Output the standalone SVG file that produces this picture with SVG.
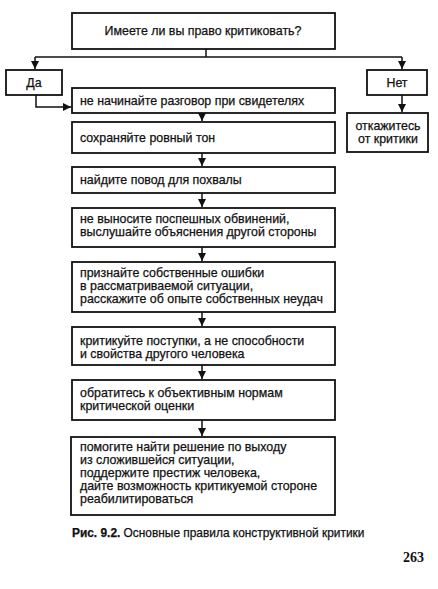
<svg xmlns="http://www.w3.org/2000/svg" width="438" height="589" viewBox="0 0 438 589">
<style>
.box{fill:#fff;stroke:#111;stroke-width:1.8}
.t{font-family:"Liberation Sans",Arial,sans-serif;font-size:12.4px;fill:#111;stroke:#111;stroke-width:0.25}
.cap{font-size:11.9px}
.c{text-anchor:middle}
.ln{fill:none;stroke:#111;stroke-width:1.5}
</style>
<defs>
<marker id="ah" markerUnits="userSpaceOnUse" markerWidth="9" markerHeight="8" refX="8" refY="4" orient="auto">
<path d="M0,0 L8,4 L0,8 Z" fill="#111"/>
</marker>
</defs>
<rect width="438" height="589" fill="#fff"/>
<g id="connectors">
<path class="ln" d="M206,49 V57"/>
<path class="ln" d="M35,57 H402"/>
<path class="ln" d="M35,57 V69" marker-end="url(#ah)"/>
<path class="ln" d="M402,57 V69" marker-end="url(#ah)"/>
<path class="ln" d="M36,95 V107 H71" marker-end="url(#ah)"/>
<path class="ln" d="M402,95 V112" marker-end="url(#ah)"/>
<path class="ln" d="M202,113 V121" marker-end="url(#ah)"/>
<path class="ln" d="M202,153 V166" marker-end="url(#ah)"/>
<path class="ln" d="M202,193 V207" marker-end="url(#ah)"/>
<path class="ln" d="M202,247 V261" marker-end="url(#ah)"/>
<path class="ln" d="M202,312 V326" marker-end="url(#ah)"/>
<path class="ln" d="M202,365 V379" marker-end="url(#ah)"/>
<path class="ln" d="M202,420 V436" marker-end="url(#ah)"/>
</g>
<g id="question">
<rect class="box" x="72" y="13" width="263" height="36"/>
<text class="t c" x="203" y="35">Имеете ли вы право критиковать?</text>
</g>
<g id="yes">
<rect class="box" x="6" y="70" width="56" height="25"/>
<text class="t c" x="34" y="87">Да</text>
</g>
<g id="no">
<rect class="box" x="367" y="70" width="60" height="25"/>
<text class="t c" x="397" y="87">Нет</text>
</g>
<g id="refuse">
<rect class="box" x="347" y="113" width="81" height="39"/>
<text class="t c" x="388" y="130">откажитесь</text>
<text class="t c" x="388" y="143">от критики</text>
</g>
<g id="r1">
<rect class="box" x="72" y="88" width="263" height="25"/>
<text class="t" x="80" y="105">не начинайте разговор при свидетелях</text>
</g>
<g id="r2">
<rect class="box" x="72" y="122" width="263" height="31"/>
<text class="t" x="80" y="142">сохраняйте ровный тон</text>
</g>
<g id="r3">
<rect class="box" x="72" y="167" width="263" height="26"/>
<text class="t" x="80" y="184">найдите повод для похвалы</text>
</g>
<g id="r4">
<rect class="box" x="72" y="208" width="263" height="39"/>
<text class="t" x="80" y="223">не выносите поспешных обвинений,</text>
<text class="t" x="80" y="236">выслушайте объяснения другой стороны</text>
</g>
<g id="r5">
<rect class="box" x="72" y="262" width="263" height="50"/>
<text class="t" x="80" y="277">признайте собственные ошибки</text>
<text class="t" x="80" y="290">в рассматриваемой ситуации,</text>
<text class="t" x="80" y="303">расскажите об опыте собственных неудач</text>
</g>
<g id="r6">
<rect class="box" x="72" y="327" width="263" height="38"/>
<text class="t" x="80" y="345">критикуйте поступки, а не способности</text>
<text class="t" x="80" y="358">и свойства другого человека</text>
</g>
<g id="r7">
<rect class="box" x="72" y="380" width="263" height="40"/>
<text class="t" x="80" y="397">обратитесь к объективным нормам</text>
<text class="t" x="80" y="410">критической оценки</text>
</g>
<g id="r8">
<rect class="box" x="71" y="437" width="264" height="78"/>
<text class="t" x="80" y="451">помогите найти решение по выходу</text>
<text class="t" x="80" y="464">из сложившейся ситуации,</text>
<text class="t" x="80" y="477">поддержите престиж человека,</text>
<text class="t" x="80" y="490">дайте возможность критикуемой стороне</text>
<text class="t" x="80" y="503">реабилитироваться</text>
</g>
<text class="t cap" x="72" y="537"><tspan font-weight="bold">Рис. 9.2.</tspan> Основные правила конструктивной критики</text>
<text x="403" y="562" font-family="Liberation Serif,serif" font-size="14" font-weight="bold" fill="#111">263</text>
</svg>
